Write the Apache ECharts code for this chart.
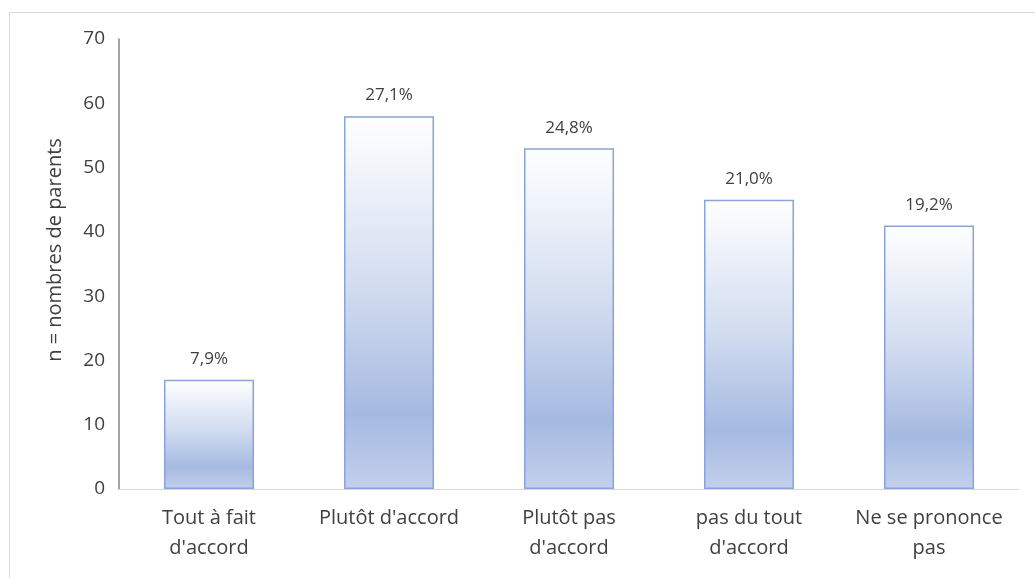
<!DOCTYPE html>
<html>
<head>
<meta charset="utf-8">
<script src="https://cdn.jsdelivr.net/npm/echarts@6/dist/echarts.min.js"></script>
<style>
  html, body { margin: 0; padding: 0; background: #fff; }
  #chart { width: 1035px; height: 578px; }
</style>
</head>
<body>
<div id="chart"></div>
<script>
// categories (axis labels, line break as in the original)
var categories = ["Tout à fait\nd'accord", "Plutôt d'accord", "Plutôt pas\nd'accord", "pas du tout\nd'accord", "Ne se prononce\npas"];
// n = number of parents per answer
var counts = [17, 58, 53, 45, 41];
// percentage shown above each bar
var percents = ['7,9%', '27,1%', '24,8%', '21,0%', '19,2%'];

var chart = echarts.init(document.getElementById('chart'));

var barFill = new echarts.graphic.LinearGradient(0, 0, 0, 1, [
  { offset: 0, color: '#ffffff' },
  { offset: 0.45, color: '#d3ddf0' },
  { offset: 0.8, color: '#a5b9e1' },
  { offset: 1, color: '#c3d0ec' }
]);

chart.setOption({
  animation: false,
  textStyle: { fontFamily: 'Open Sans' },
  graphic: [{
    type: 'rect',
    shape: { x: 9.5, y: 12.5, width: 1040, height: 600 },
    style: { fill: 'none', stroke: '#d9d9d9', lineWidth: 1 },
    silent: true
  }],
  grid: { left: 119, right: 16, top: 39, bottom: 89 },
  xAxis: {
    type: 'category',
    data: categories,
    axisLine: { lineStyle: { color: '#d9d9d9', width: 1 } },
    axisTick: { show: false },
    axisLabel: { color: '#404040', fontSize: 20, lineHeight: 30, margin: 14, interval: 0 }
  },
  yAxis: {
    type: 'value',
    min: 0,
    max: 70,
    interval: 10,
    name: 'n = nombres de parents',
    nameLocation: 'middle',
    nameGap: 54,
    nameTextStyle: { color: '#404040', fontSize: 20, padding: [0, 0, 0, 28] },
    axisLine: { show: true, lineStyle: { color: '#868686', width: 1.5 } },
    axisTick: { show: false },
    splitLine: { show: false },
    axisLabel: { color: '#404040', fontSize: 19, margin: 14 }
  },
  series: [{
    type: 'bar',
    data: counts,
    barWidth: 90,
    itemStyle: { color: barFill, borderColor: '#87a4dc', borderWidth: 1.5 },
    label: {
      show: true,
      position: 'top',
      distance: 12,
      color: '#404040',
      fontSize: 17,
      formatter: function (p) { return percents[p.dataIndex]; }
    }
  }]
});
</script>
</body>
</html>
